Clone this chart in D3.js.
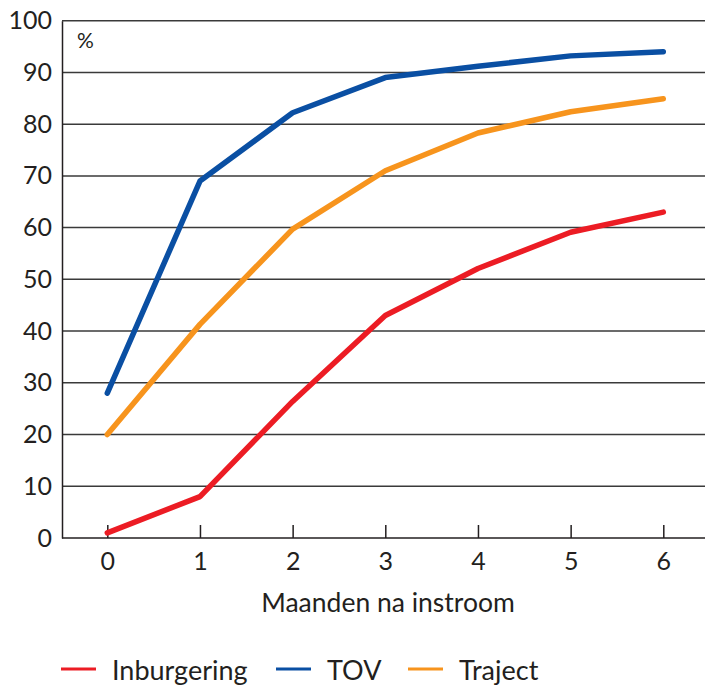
<!DOCTYPE html>
<html>
<head>
<meta charset="utf-8">
<script src="https://cdn.jsdelivr.net/npm/d3@7"></script>
<style>
  body { margin: 0; background: #fff; }
  text { font-family: Lato, "Open Sans", sans-serif; fill: #231f20; }
</style>
</head>
<body>
<div id="chart"></div>
<script>
let months = [0, 1, 2, 3, 4, 5, 6];
let inburgering = [1, 8, 26.4, 43, 52.1, 59.1, 63];
let tov = [28, 69, 82.2, 89, 91.2, 93.2, 94];
let traject = [20, 41.3, 59.7, 71, 78.3, 82.4, 84.9];
let yTicks = [0, 10, 20, 30, 40, 50, 60, 70, 80, 90, 100];
let seriesNames = ["Inburgering", "TOV", "Traject"];
let seriesColors = ["#ec1c24", "#0a4fa3", "#f7941d"];

let W = 705, H = 686;
let plotLeft = 62, plotRight = 705, plotTop = 20, plotBottom = 538;

let svg = d3
  .select("#chart")
  .append("svg")
  .attr("width", W)
  .attr("height", H);

let x = d3.scaleLinear().domain([0, 6]).range([107.3, 663.3]);
let y = d3.scaleLinear().domain([0, 100]).range([plotBottom, plotTop + 0.7]);

// gridlines
svg.append("g")
  .selectAll("line")
  .data(yTicks.slice(1))
  .enter()
  .append("line")
  .attr("x1", plotLeft)
  .attr("x2", plotRight)
  .attr("y1", function (d) { return y(d); })
  .attr("y2", function (d) { return y(d); })
  .style("stroke", "#3a3a3a")
  .style("stroke-width", 1.5);

// y axis
let yAxis = svg.append("g")
  .attr("transform", "translate(" + plotLeft + ",0)")
  .call(d3.axisLeft(y).tickValues(yTicks).tickSize(0).tickPadding(10));
yAxis.select(".domain").style("stroke", "#231f20").style("stroke-width", 1.5);
yAxis.selectAll("text")
  .style("font-size", "25px")
  .style("font-family", "Lato, sans-serif")
  .attr("fill", "#231f20");

// x axis
let xAxis = svg.append("g")
  .attr("transform", "translate(0," + plotBottom + ")")
  .call(d3.axisTop(x).tickValues(months).tickSize(13).tickFormat(d3.format("d")));
xAxis.select(".domain").remove();
xAxis.selectAll("line").style("stroke", "#231f20").style("stroke-width", 1.5);
xAxis.selectAll("text")
  .attr("y", 14)
  .attr("dy", "0.71em")
  .style("font-size", "25px")
  .style("font-family", "Lato, sans-serif")
  .attr("fill", "#231f20");
svg.append("line")
  .attr("x1", plotLeft).attr("x2", plotRight)
  .attr("y1", plotBottom).attr("y2", plotBottom)
  .style("stroke", "#231f20").style("stroke-width", 1.5);

svg.append("text")
  .attr("x", 77)
  .attr("y", 48)
  .style("font-size", "21px")
  .text("%");

svg.append("text")
  .attr("x", 388)
  .attr("y", 612)
  .attr("text-anchor", "middle")
  .style("font-size", "26.5px")
  .text("Maanden na instroom");

// lines
let allSeries = [inburgering, tov, traject];
let line = d3.line()
  .x(function (d, i) { return x(months[i]); })
  .y(function (d) { return y(d); });

svg.append("g")
  .selectAll("path")
  .data(allSeries)
  .enter()
  .append("path")
  .attr("d", function (d) { return line(d); })
  .style("fill", "none")
  .style("stroke", function (d, i) { return seriesColors[i]; })
  .style("stroke-width", 5.5)
  .style("stroke-linecap", "round")
  .style("stroke-linejoin", "round");

// legend
let legendX = [61, 276, 408];
let legend = svg.append("g")
  .selectAll("g")
  .data(seriesNames)
  .enter()
  .append("g")
  .attr("transform", function (d, i) { return "translate(" + legendX[i] + ",669)"; });
legend.append("line")
  .attr("x1", 0).attr("x2", 35)
  .style("stroke", function (d, i) { return seriesColors[i]; })
  .style("stroke-width", 3);
legend.append("text")
  .attr("x", 51)
  .attr("y", 11)
  .style("font-size", "27px")
  .text(function (d) { return d; });
</script>
</body>
</html>
